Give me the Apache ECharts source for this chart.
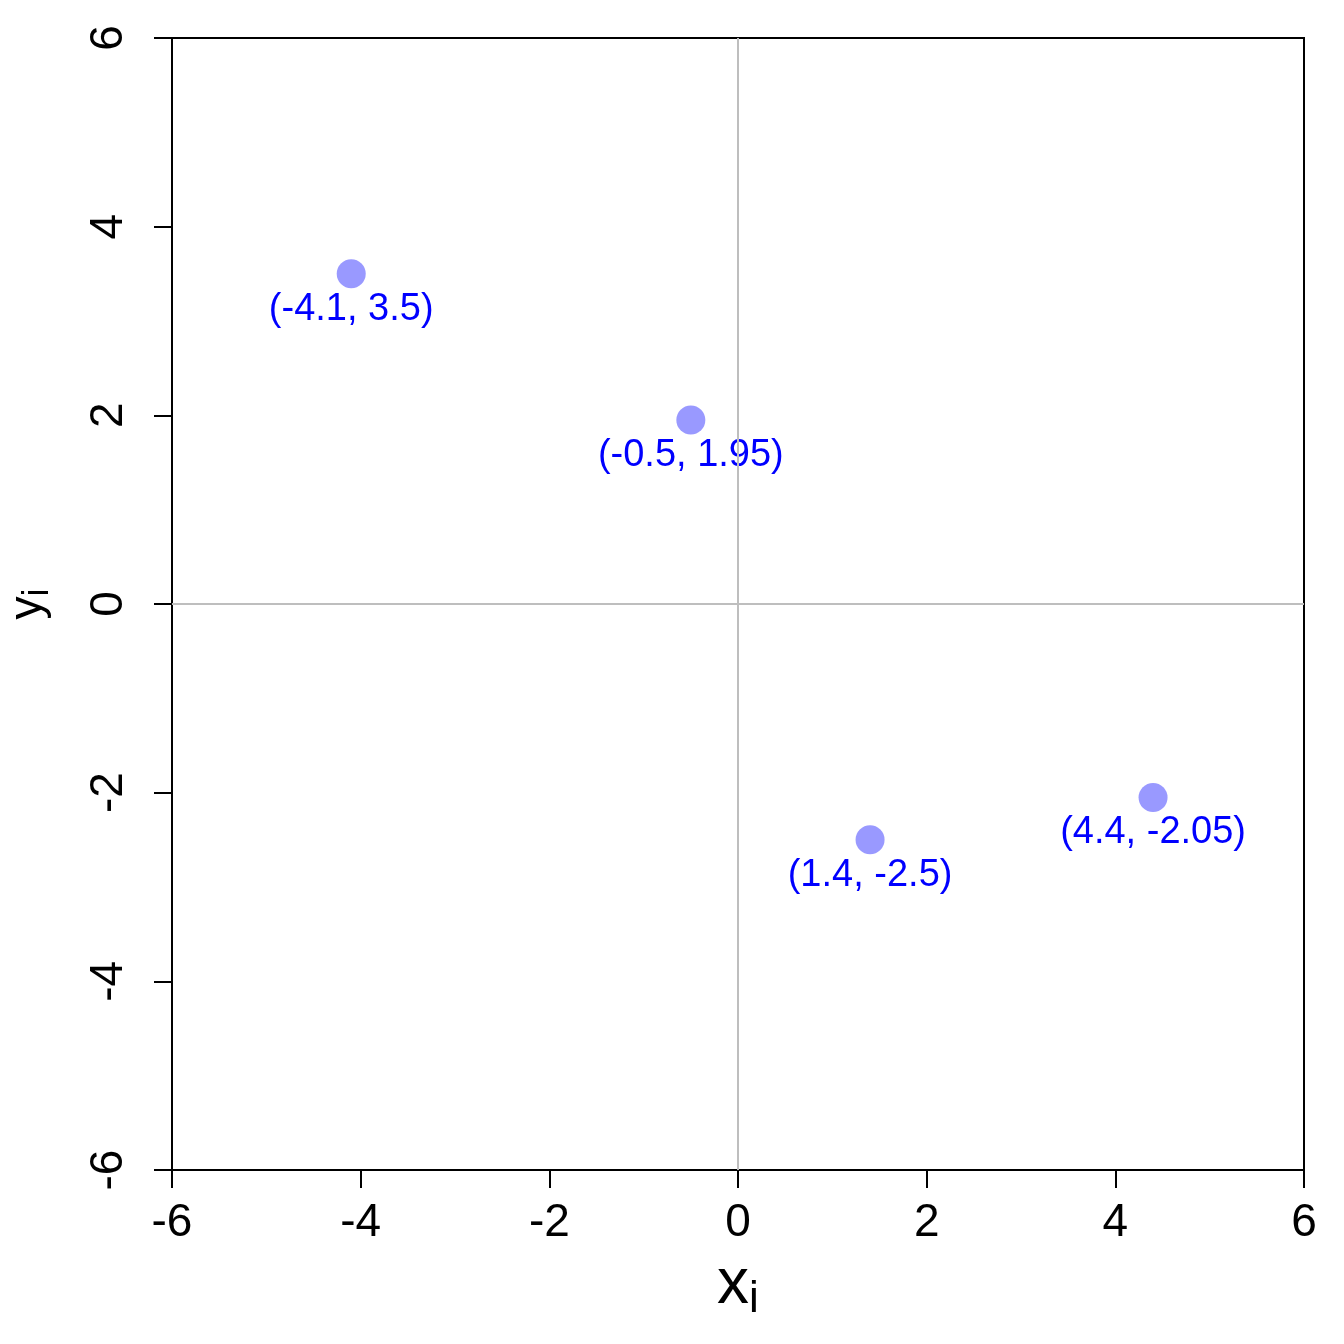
<!DOCTYPE html>
<html>
<head>
<meta charset="utf-8">
<script src="https://cdn.jsdelivr.net/npm/echarts@6/dist/echarts.min.js"></script>
<style>
  html, body { margin: 0; padding: 0; background: #fff; }
  #main { width: 1344px; height: 1344px; }
</style>
</head>
<body>
<div id="main"></div>
<script>
// point coordinates
var xs = [-4.1, -0.5, 1.4, 4.4];
var ys = [3.5, 1.95, -2.5, -2.05];

var pts = [];
for (var i = 0; i < xs.length; i++) {
    pts.push([xs[i], ys[i]]);
}

var chart = echarts.init(document.getElementById('main'));
var font = 'Arial, "Liberation Sans", sans-serif';

chart.setOption({
    animation: false,
    grid: {
        left: 172, right: 40, top: 38, bottom: 174,
        outerBoundsMode: 'none', containLabel: false,
        show: true, borderColor: '#000', borderWidth: 2, backgroundColor: 'transparent'
    },
    xAxis: {
        type: 'value', min: -6, max: 6, interval: 2,
        name: '{b|x}{s|i}',
        nameLocation: 'middle', nameGap: 78,
        nameTextStyle: {
            rich: {
                b: { fontSize: 64, fontFamily: font, color: '#000' },
                s: { fontSize: 44, fontFamily: font, color: '#000', padding: [30, 0, 0, 0] }
            }
        },
        axisLine: { show: true, onZero: false, lineStyle: { color: '#000', width: 2 } },
        axisTick: { show: true, inside: false, length: 18, lineStyle: { color: '#000', width: 2 } },
        axisLabel: { fontSize: 46, fontFamily: font, color: '#000', margin: 30 },
        splitLine: { show: false }
    },
    yAxis: {
        type: 'value', min: -6, max: 6, interval: 2,
        name: '{b|y}{s|i}',
        nameLocation: 'middle', nameGap: 116, nameRotate: 90,
        nameTextStyle: {
            rich: {
                b: { fontSize: 46, fontFamily: font, color: '#000' },
                s: { fontSize: 36, fontFamily: font, color: '#000', padding: [20, 0, 0, 0] }
            }
        },
        axisLine: { show: true, onZero: false, lineStyle: { color: '#000', width: 2 } },
        axisTick: { show: true, inside: false, length: 18, lineStyle: { color: '#000', width: 2 } },
        axisLabel: { fontSize: 46, fontFamily: font, color: '#000', margin: 40, rotate: 90 },
        splitLine: { show: false }
    },
    series: [{
        type: 'scatter',
        data: pts,
        symbol: 'circle',
        symbolSize: 29,
        itemStyle: { color: '#9999ff', opacity: 1 },
        label: {
            show: true, position: 'bottom', distance: 2,
            fontSize: 38, fontFamily: font, color: '#0000ff',
            formatter: function (p) { return '(' + p.value[0] + ', ' + p.value[1] + ')'; }
        },
        markLine: {
            silent: true, symbol: 'none', label: { show: false },
            lineStyle: { color: '#bebebe', width: 2, type: 'solid' },
            data: [{ xAxis: 0 }, { yAxis: 0 }]
        },
        z: 3
    }]
});
</script>
</body>
</html>
